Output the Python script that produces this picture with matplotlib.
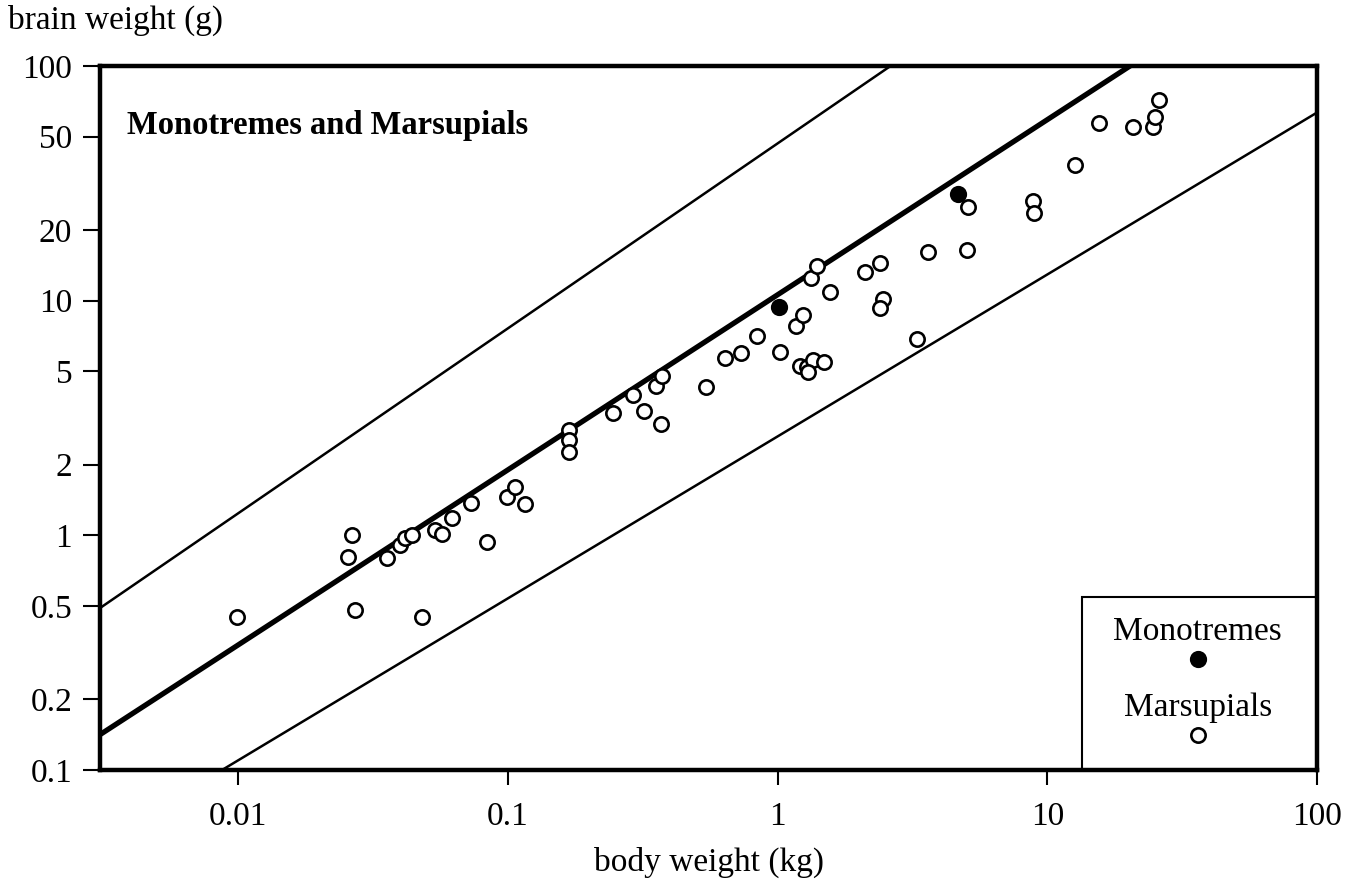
import matplotlib
matplotlib.use("Agg")
import matplotlib.pyplot as plt
import numpy as np
from matplotlib.patches import Rectangle

plt.rcParams['font.family'] = ['Liberation Serif', 'DejaVu Serif']

# marsupials: body weight (kg), brain weight (g)
marsupial_body = [0.0099, 0.0265, 0.0256, 0.0271, 0.0356, 0.0398, 0.0415, 0.044, 0.048,
                  0.0537, 0.057, 0.062, 0.073, 0.0837, 0.099, 0.106, 0.116,
                  0.169, 0.169, 0.169, 0.245, 0.291, 0.320, 0.370, 0.355, 0.373,
                  0.543, 0.638, 0.733, 0.84, 1.02, 1.17, 1.24,
                  1.21, 1.28, 1.35, 1.48, 1.30, 1.33, 1.40, 1.57,
                  2.11, 2.40, 2.46, 2.40, 3.29, 3.61, 5.05, 5.08,
                  8.85, 8.9, 12.7, 15.6, 20.8, 24.7, 25.1, 26.0]
marsupial_brain = [0.45, 1.00, 0.81, 0.48, 0.80, 0.91, 0.97, 1.00, 0.45,
                   1.05, 1.01, 1.19, 1.37, 0.94, 1.46, 1.61, 1.36,
                   2.81, 2.55, 2.26, 3.32, 3.96, 3.39, 2.98, 4.33, 4.77,
                   4.28, 5.7, 5.98, 7.1, 6.04, 7.8, 8.7,
                   5.26, 5.2, 5.58, 5.47, 4.96, 12.5, 14.0, 10.9,
                   13.2, 14.5, 10.2, 9.3, 6.86, 16.1, 16.5, 25.0,
                   26.6, 23.6, 37.8, 57, 55, 55, 60.6, 71.6]

# monotremes
monotreme_body = [1.01, 4.67]
monotreme_brain = [9.4, 28.5]

# reference lines: brain = coef * body ** exp (upper, fit, lower)
line_coef = [46.8, 10.6, 2.64]
line_exp = [0.788, 0.746, 0.690]

x_ticks = [0.01, 0.1, 1, 10, 100]
x_ticklabels = ['0.01', '0.1', '1', '10', '100']
y_ticks = [0.1, 0.2, 0.5, 1, 2, 5, 10, 20, 50, 100]
y_ticklabels = ['0.1', '0.2', '0.5', '1', '2', '5', '10', '20', '50', '100']

fig = plt.figure(figsize=(13.53, 8.80), dpi=100)
ax = fig.add_axes([100/1353, 1-770/880, 1217/1353, 704/880])
ax.set_xscale('log')
ax.set_yscale('log')
ax.set_xlim(0.00307, 100)
ax.set_ylim(0.1, 100)

xx = np.logspace(np.log10(0.00307), 2, 200)
widths = [1.8, 3.8, 1.8]
for c, e, w in zip(line_coef, line_exp, widths):
    ax.plot(xx, c * xx ** e, color='black', lw=w, zorder=2)

ax.plot(marsupial_body, marsupial_brain, 'o', ms=10.3, mfc='white', mec='black',
        mew=1.9, zorder=3, clip_on=False)
ax.plot(monotreme_body, monotreme_brain, 'o', ms=10.5, mfc='black', mec='black',
        mew=1.9, zorder=4)

ax.set_xticks(x_ticks)
ax.set_xticklabels(x_ticklabels)
ax.set_yticks(y_ticks)
ax.set_yticklabels(y_ticklabels)
ax.minorticks_off()
ax.tick_params(axis='x', length=11, width=1.5, pad=12, labelsize=24)
ax.tick_params(axis='y', length=12, width=1.5, pad=8, labelsize=24)
for s in ax.spines.values():
    s.set_linewidth(3.2)

ax.set_xlabel('body weight (kg)', fontsize=24, labelpad=10)
fig.text(8/1353, 1-20/880, 'brain weight (g)', fontsize=24, ha='left', va='center')
ax.text(0.022, 0.915, 'Monotremes and Marsupials', transform=ax.transAxes,
        fontsize=23.5, fontweight='bold', ha='left', va='center')

# legend box
ax.add_patch(Rectangle((0.807, 0.0), 0.193, 0.246, transform=ax.transAxes,
                       fill=False, lw=1.5, ec='black', zorder=5, clip_on=False))
ax.text(0.902, 0.196, 'Monotremes', transform=ax.transAxes, fontsize=24,
        ha='center', va='center')
ax.plot([0.902], [0.158], 'o', ms=10.5, mfc='black', mec='black', mew=1.9,
        transform=ax.transAxes)
ax.text(0.902, 0.088, 'Marsupials', transform=ax.transAxes, fontsize=24,
        ha='center', va='center')
ax.plot([0.902], [0.050], 'o', ms=10.3, mfc='white', mec='black', mew=1.9,
        transform=ax.transAxes)

fig.savefig('out.png', dpi=100)
